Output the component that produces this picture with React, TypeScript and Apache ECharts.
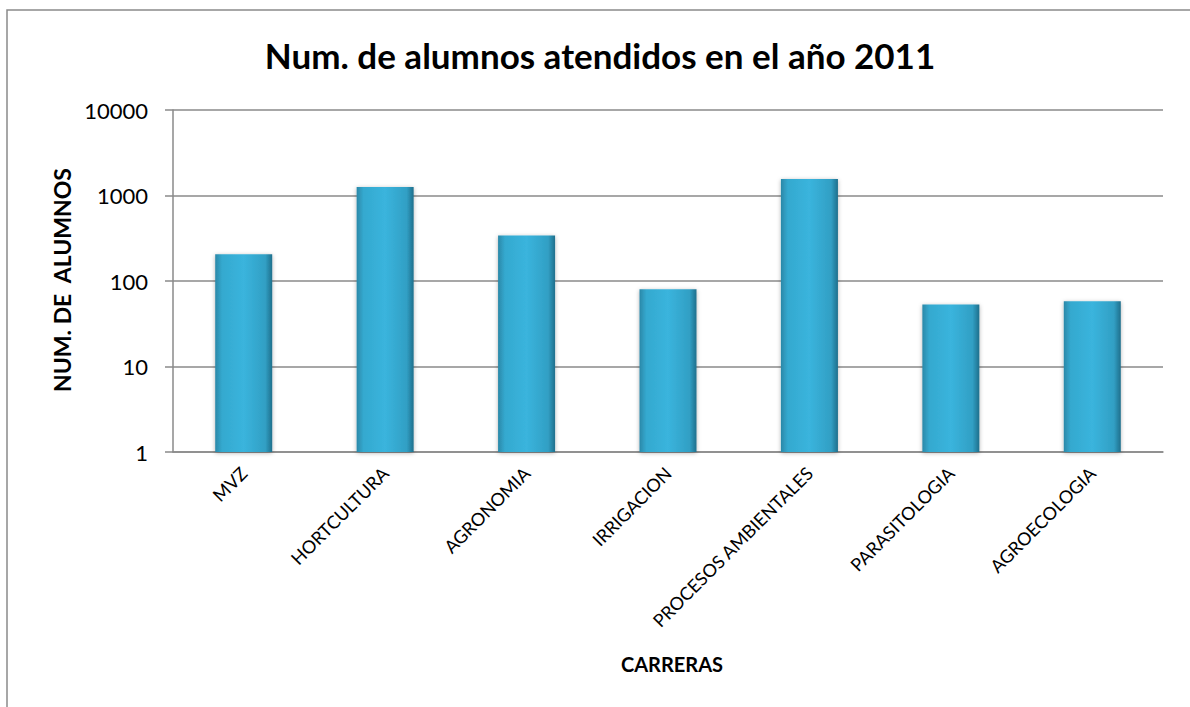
import React, { useEffect, useRef } from "react";
import * as echarts from "echarts";

const categories = [
  "MVZ",
  "HORTCULTURA",
  "AGRONOMIA",
  "IRRIGACION",
  "PROCESOS AMBIENTALES",
  "PARASITOLOGIA",
  "AGROECOLOGIA",
];
const values = [205, 1260, 340, 80, 1560, 53, 58];
const titleText = "Num. de alumnos atendidos en el año 2011";
const yName = "NUM. DE  ALUMNOS";
const xName = "CARRERAS";

const FONT = "Lato, 'Open Sans', sans-serif";

export default function App() {
  const ref = useRef<HTMLDivElement>(null);
  useEffect(() => {
    document.body.style.margin = "0";
    const chart = echarts.init(ref.current!, null, { renderer: "svg" });
    chart.setOption({
      animation: false,
      backgroundColor: "#ffffff",
      grid: { left: 173, right: 27, top: 110, bottom: 255, containLabel: false },
      graphic: [
        {
          type: "rect",
          shape: { x: 7, y: 10, width: 1300, height: 900 },
          style: { fill: "none", stroke: "#8a8a8a", lineWidth: 1.5 },
          silent: true,
        },
        {
          type: "text",
          x: 600,
          y: 55,
          style: {
            text: titleText,
            font: `bold 35px ${FONT}`,
            fill: "#000",
            align: "center",
            verticalAlign: "middle",
          },
        },
        {
          type: "text",
          x: 62,
          y: 280,
          rotation: Math.PI / 2,
          style: {
            text: yName,
            font: `bold 23px ${FONT}`,
            fill: "#000",
            align: "center",
            verticalAlign: "middle",
          },
        },
        {
          type: "text",
          x: 672,
          y: 664,
          style: {
            text: xName,
            font: `bold 20px ${FONT}`,
            fill: "#000",
            align: "center",
            verticalAlign: "middle",
          },
        },
      ],
      xAxis: {
        type: "category",
        data: categories,
        axisLine: { show: true, lineStyle: { color: "#8a8a8a", width: 1.5 } },
        axisTick: { show: false },
        axisLabel: {
          rotate: 45,
          interval: 0,
          margin: 18,
          fontSize: 18,
          color: "#000",
          fontFamily: FONT,
        },
      },
      yAxis: {
        type: "log",
        logBase: 10,
        min: 1,
        max: 10000,
        axisLine: { show: true, lineStyle: { color: "#8a8a8a", width: 1.5 } },
        axisTick: { show: true, length: 8, lineStyle: { color: "#8a8a8a", width: 1.5 } },
        splitLine: { show: true, lineStyle: { color: "#8a8a8a", width: 1.5 } },
        axisLabel: {
          fontSize: 22,
          color: "#000",
          margin: 25,
          fontFamily: FONT,
          formatter: (v: number) => String(Math.round(v)),
        },
      },
      series: [
        {
          type: "bar",
          data: values,
          barWidth: 57,
          itemStyle: {
            color: {
              type: "linear",
              x: 0,
              y: 0,
              x2: 1,
              y2: 0,
              colorStops: [
                { offset: 0, color: "#2b88a8" },
                { offset: 0.12, color: "#34a9cf" },
                { offset: 0.5, color: "#3ab4dd" },
                { offset: 0.88, color: "#319fc4" },
                { offset: 1, color: "#1f6f8c" },
              ],
            },
            shadowBlur: 4,
            shadowColor: "rgba(0,0,0,0.3)",
            shadowOffsetY: 1,
          },
        },
      ],
    });
    return () => chart.dispose();
  }, []);
  return <div ref={ref} style={{ width: 1190, height: 707 }} />;
}
